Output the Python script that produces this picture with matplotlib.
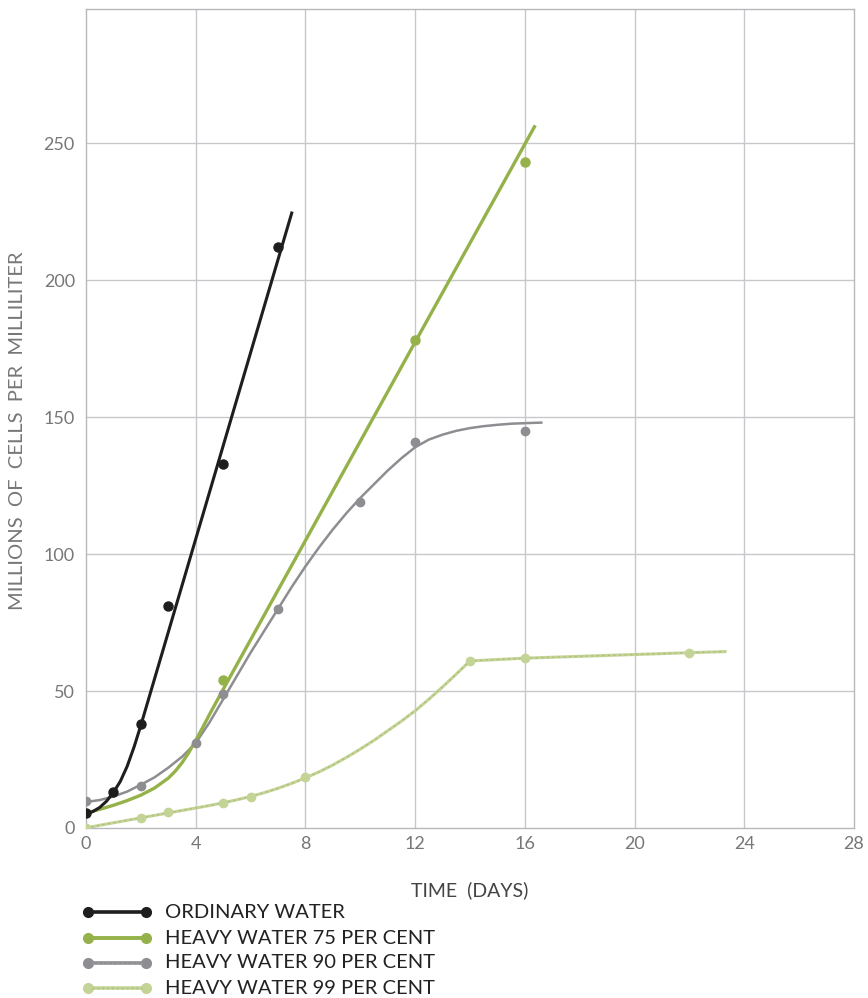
import matplotlib
matplotlib.use("Agg")
import matplotlib.pyplot as plt
from matplotlib.lines import Line2D

plt.rcParams['font.family'] = ['Lato', 'DejaVu Sans']

# measured cell counts (millions per milliliter) vs time (days)
ord_days = [0, 1, 2, 3, 5, 7]
ord_cells = [5.5, 13, 38, 81, 133, 212]
hw75_days = [5, 12, 16]
hw75_cells = [54, 178, 243]
hw90_days = [0, 2, 4, 5, 7, 10, 12, 16]
hw90_cells = [10, 15.5, 31, 49, 80, 119, 141, 145]
hw99_days = [0, 2, 3, 5, 6, 8, 14, 16, 22]
hw99_cells = [0, 3.7, 5.8, 9.1, 11.3, 18.6, 61, 62, 64]

# hand-fitted growth curves
ord_fit_x = [0, 0.25, 0.5, 0.75, 1, 1.25, 1.5, 1.75, 2, 2.25, 2.5, 2.75, 3, 4, 5, 6, 7, 7.5]
ord_fit_y = [5, 6, 7.5, 9.8, 13, 17, 22.5, 29.5, 37.5, 46, 54.5, 63, 71.5, 105.5, 139.5, 173.5, 207.5, 224.5]
hw75_fit_x = [0, 0.5, 1, 1.5, 2, 2.5, 3, 3.25, 3.5, 3.75, 4, 4.25, 4.5, 5, 12, 16.35]
hw75_fit_y = [5.5, 6.8, 8.3, 10, 12, 14.6, 18.2, 20.7, 23.8, 27.6, 32, 36.6, 41.4, 50.6, 177.4, 256]
hw90_fit_x = [0, 0.5, 1, 1.5, 2, 2.5, 3, 3.5, 4, 4.5, 5, 5.5, 6, 6.5, 7, 7.5, 8, 8.5,
              9, 9.5, 10, 10.5, 11, 11.5, 12, 12.5, 13, 13.5, 14, 14.5, 15, 15.5, 16, 16.6]
hw90_fit_y = [9.5, 10.2, 11.5, 13.3, 15.8, 18.5, 22, 26, 31, 38.5, 47, 55.5, 64, 72, 80, 88,
              95.5, 102.5, 109, 115, 120.5, 125.5, 130.5, 135, 139, 141.8, 143.6, 145, 146,
              146.7, 147.2, 147.6, 147.8, 148]
hw99_fit_x = [0, 0.5, 1, 1.5, 2, 2.5, 3, 3.5, 4, 4.5, 5, 5.5, 6, 6.5, 7, 7.5, 8, 8.5, 9, 9.5,
              10, 10.5, 11, 11.5, 12, 12.5, 13, 13.5, 14, 16, 22, 23.3]
hw99_fit_y = [0, 1, 1.9, 2.8, 3.7, 4.6, 5.5, 6.4, 7.3, 8.2, 9.2, 10.3, 11.5, 12.9, 14.5, 16.3,
              18.3, 20.5, 23, 25.8, 28.8, 32, 35.5, 39, 42.8, 47, 51.5, 56.2, 61, 62, 64, 64.4]

x_ticks = [0, 4, 8, 12, 16, 20, 24, 28]
y_ticks = [0, 50, 100, 150, 200, 250]

legend_labels = ["ORDINARY WATER", "HEAVY WATER 75 PER CENT",
                 "HEAVY WATER 90 PER CENT", "HEAVY WATER 99 PER CENT"]

C_ORD = "#1e1e1e"
C_75 = "#95b24a"
C_90 = "#8d8d92"
C_99 = "#c4d497"
GRID = "#c8c8cc"

fig = plt.figure(figsize=(8.68, 9.98), dpi=100)
ax = fig.add_axes([86 / 868, 170 / 998, 768 / 868, 819 / 998])
ax.set_xlim(0, 28)
ax.set_ylim(0, 299)

for x in x_ticks[1:-1]:
    ax.axvline(x, color=GRID, lw=1.0, zorder=0)
for y in y_ticks[1:]:
    ax.axhline(y, color=GRID, lw=1.0, zorder=0)
for s in ax.spines.values():
    s.set_color("#b8b8bc")
    s.set_linewidth(1.0)

ax.set_xticks(x_ticks)
ax.set_yticks(y_ticks)
ax.tick_params(length=0, labelsize=13, colors="#777777", pad=8)
ax.tick_params(axis='x', pad=6)

# 99 per cent
ax.plot(hw99_fit_x, hw99_fit_y, color=C_99, lw=2.2, zorder=2)
ax.plot(hw99_fit_x, hw99_fit_y, color="#aebf78", lw=1.0, ls=(0, (1.5, 2.5)), zorder=2)
ax.plot(hw99_days, hw99_cells, 'o', color=C_99, ms=6, zorder=3)
# 90 per cent
ax.plot(hw90_fit_x, hw90_fit_y, color=C_90, lw=1.8, zorder=2)
ax.plot(hw90_days, hw90_cells, 'o', color=C_90, ms=6, zorder=3)
# 75 per cent
ax.plot(hw75_fit_x, hw75_fit_y, color=C_75, lw=2.4, zorder=2)
ax.plot(hw75_days, hw75_cells, 'o', color=C_75, ms=6.5, zorder=3)
# ordinary water
ax.plot(ord_fit_x, ord_fit_y, color=C_ORD, lw=2.2, zorder=4)
ax.plot(ord_days, ord_cells, 'o', color=C_ORD, ms=6.5, zorder=5)

ax.set_xlabel("TIME  (DAYS)", fontsize=14, color="#444444")
ax.xaxis.set_label_coords(0.5, -0.065)
ax.set_ylabel("MILLIONS  OF  CELLS  PER  MILLILITER", fontsize=14.5, color="#777777")
ax.yaxis.set_label_coords(-0.078, 0.485)

# legend drawn below the plot
styles = [
    (C_ORD, 2.6, None),
    (C_75, 2.8, None),
    (C_90, 2.6, "#a0a0a4"),
    (C_99, 2.6, "#aebf78"),
]
rows_y = [912, 938, 963, 988]
for (col, lw, tex), yy, lab in zip(styles, rows_y, legend_labels):
    fy = 1 - yy / 998
    fig.add_artist(Line2D([88 / 868, 146 / 868], [fy, fy], color=col, lw=lw,
                          marker='o', ms=7, transform=fig.transFigure))
    if tex is not None:
        fig.add_artist(Line2D([92 / 868, 142 / 868], [fy, fy], color=tex, lw=1.0,
                              ls=(0, (1.5, 2.0)), transform=fig.transFigure))
    fig.text(165 / 868, fy, lab, fontsize=14.5, color="#222222", va='center', ha='left')

fig.savefig("out.png", dpi=100)
